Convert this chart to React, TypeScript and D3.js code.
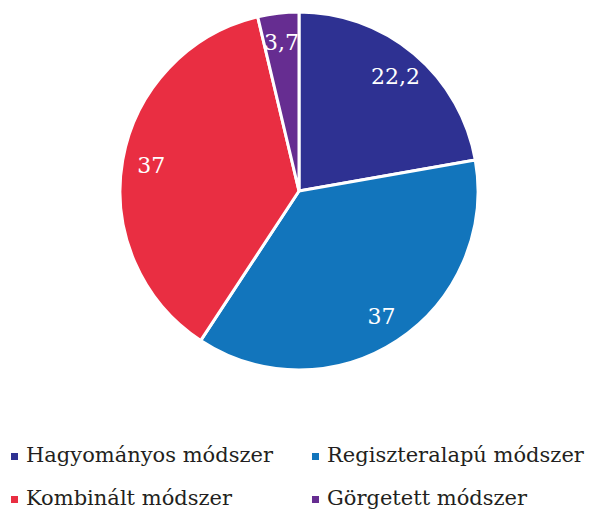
import React from "react";
import * as d3 from "d3";

const width = 593;
const height = 511;

const categories = ["Hagyományos módszer", "Regiszteralapú módszer", "Kombinált módszer", "Görgetett módszer"];
const values = [22.2, 37, 37, 3.7];
const labels = ["22,2", "37", "37", "3,7"];
const colors = ["#2E3192", "#1275BC", "#E92E42", "#662D91"];

const cx = 299;
const cy = 191;
const radius = 179;
const labelRadius = 150;
const font = "'DejaVu Serif', serif";

const App = () => {
  const pie = d3.pie<number>().sort(null).value((d) => d);
  const arcs = pie(values);
  const genArc = d3.arc<d3.PieArcDatum<number>>().innerRadius(0).outerRadius(radius);
  const labelArc = d3.arc<d3.PieArcDatum<number>>().innerRadius(labelRadius).outerRadius(labelRadius);

  // legend is 2 columns x 2 rows
  const colX = d3.scaleOrdinal<number, number>().domain([0, 1]).range([11, 312]);
  const rowY = d3.scaleOrdinal<number, number>().domain([0, 1]).range([462, 505]);

  return (
    <svg width={width} height={height} style={{ position: "absolute", left: 0, top: 0 }}>
      <rect width={width} height={height} fill="#fff" />
      <g transform={`translate(${cx},${cy})`}>
        {arcs.map((a, i) => (
          <path key={i} d={genArc(a) || ""} fill={colors[i]} stroke="#fff" strokeWidth={3} strokeLinejoin="round" />
        ))}
        {arcs.map((a, i) => {
          const [x, y] = labelArc.centroid(a);
          return (
            <text key={i} x={x} y={y} dy="0.35em" textAnchor="middle" fill="#fff" fontFamily={font} fontSize={22}>
              {labels[i]}
            </text>
          );
        })}
      </g>
      {categories.map((c, i) => {
        const x = colX(i % 2);
        const y = rowY(Math.floor(i / 2));
        return (
          <g key={c}>
            <rect x={x} y={y - 9} width={7} height={7} fill={colors[i]} />
            <text x={x + 15} y={y} fill="#231F20" fontFamily={font} fontSize={21}>
              {c}
            </text>
          </g>
        );
      })}
    </svg>
  );
};

export default App;
